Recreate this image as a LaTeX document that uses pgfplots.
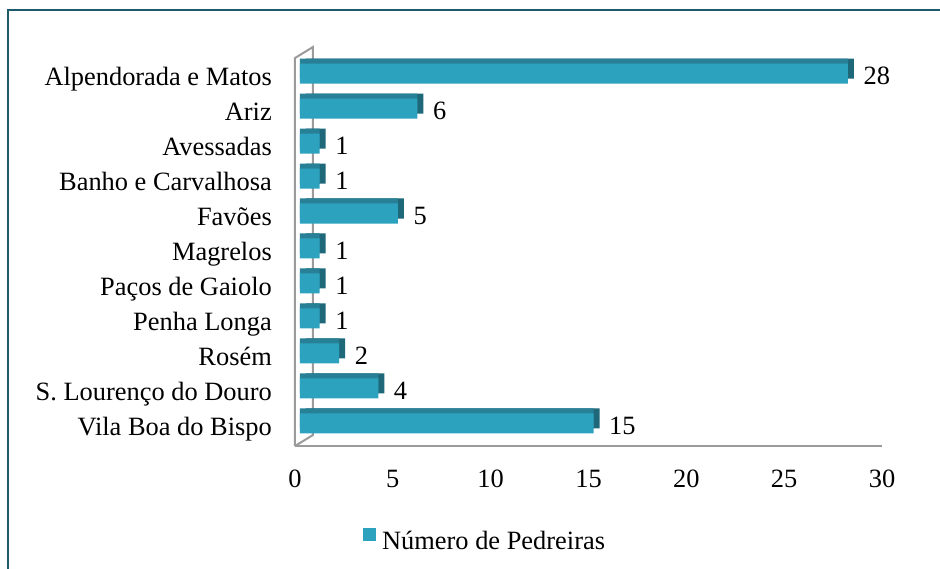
\documentclass[border=0pt]{standalone}
\usepackage{fontspec}
\setmainfont{Liberation Serif}
\usepackage{pgfplots}
\usepackage{pgfplotstable}
\pgfplotsset{compat=1.18}
\definecolor{front}{RGB}{44,162,191}
\definecolor{topc}{RGB}{40,128,150}
\definecolor{side}{RGB}{30,104,122}
\definecolor{wall}{RGB}{155,155,155}
\definecolor{framec}{RGB}{30,90,106}
\pgfplotstableread{
c v
0 15
1 4
2 2
3 1
4 1
5 1
6 5
7 1
8 1
9 6
10 28
}\datatable
\begin{document}
\begin{tikzpicture}
\useasboundingbox (0,0) rectangle (940pt,568pt);
\fill[white] (0,0) rectangle (940pt,568pt);
\draw[framec, line width=2pt] (7.5pt,-5pt) -- (7.5pt,558pt) -- (945pt,558pt);
\begin{axis}[
 at={(295pt,122pt)}, anchor=south west,
 scale only axis, width=587pt, height=388pt,
 xmin=0, xmax=30, ymin=-0.643, ymax=10.443,
 xtick={0,5,...,30}, ytick={0,...,10},
 yticklabels={Vila Boa do Bispo, S. Lourenço do Douro, Rosém, Penha Longa, Paços de Gaiolo, Magrelos, Favões, Banho e Carvalhosa, Avessadas, Ariz, Alpendorada e Matos},
 axis line style={draw=none}, major tick length=0pt,
 font=\fontsize{26.4}{31}\selectfont,
 /pgf/number format/assume math mode=true,
 xticklabel style={anchor=base, inner sep=0pt, yshift=-41.5pt},
 yticklabel style={anchor=base east, inner sep=0pt, xshift=-23pt, yshift=-12pt},
 clip=false,
 legend style={draw=none, fill=none, at={(axis description cs:0.1158,-0.241)}, anchor=west, inner sep=0pt, nodes={inner sep=0pt}, /tikz/every odd column/.append style={column sep=6pt}},
 legend image code/.code={\fill[front] (0pt,1pt) rectangle (13pt,14pt);},
]
\draw[wall, line width=2pt] (axis cs:0,-0.643) -- (axis cs:30,-0.643);
\draw[wall, line width=2pt] (axis cs:0,-0.643) -- (axis cs:0,10.443) -- ++(18pt,11pt) -- ++(0pt,-388pt) -- (axis cs:0,-0.643);
\addplot[xbar, bar shift=0pt, bar width=20pt, fill=side, draw=none, xshift=11pt, yshift=5pt, forget plot] table[x=v,y=c] {\datatable};
\addplot[xbar, bar shift=0pt, bar width=20pt, fill=topc, draw=none, xshift=5pt, yshift=5pt, forget plot] table[x=v,y=c] {\datatable};
\addplot[xbar, bar shift=0pt, bar width=20pt, fill=front, draw=none, xshift=5pt, point meta=x,
  nodes near coords, nodes near coords style={anchor=west, inner sep=0pt, xshift=15.5pt, yshift=-2pt, text=black}] table[x=v,y=c] {\datatable};
\addlegendentry{Número de Pedreiras}
\end{axis}
\end{tikzpicture}
\end{document}
